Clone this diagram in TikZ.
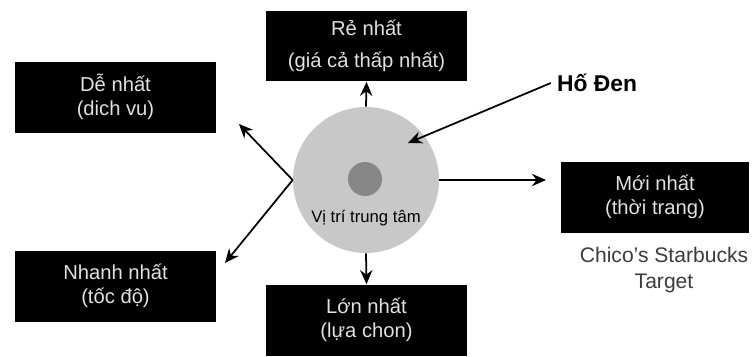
\documentclass[tikz,border=0pt]{standalone}
\usepackage{fontspec}
\setmainfont{Liberation Sans}
\usepackage{tikz}
\usetikzlibrary{arrows.meta,positioning}
\definecolor{boxblack}{RGB}{0,0,0}
\definecolor{boxtext}{RGB}{225,225,225}
\definecolor{discgray}{RGB}{200,200,200}
\definecolor{coregray}{RGB}{135,135,135}
\definecolor{labelgray}{RGB}{60,60,60}

\begin{document}
\begin{tikzpicture}[x=0.02cm, y=-0.02cm, >={Stealth[length=8pt,width=7pt]},
  goal/.style={fill=boxblack, text=boxtext, align=center, inner sep=0pt,
    minimum width=4.02cm, minimum height=1.42cm,
    font={\fontsize{11.5}{14}\selectfont}},
  link/.style={->, line width=1pt, black}]
  \useasboundingbox (0,0) rectangle (753,356);

  % Central disc with its dark core
  \node[circle, fill=discgray, minimum size=2.92cm, inner sep=0pt] (hub) at (366,180) {};
  \node[circle, fill=coregray, minimum size=0.68cm, inner sep=0pt] (core) at (365,179) {};
  \node[font={\fontsize{9.5}{11}\selectfont}] (place) at (366,218) {Vị trí trung tâm};

  % The five goals
  \node[goal, font={\fontsize{11.5}{18}\selectfont}] (cheap) at (366.5,46) {Rẻ nhất\\(giá cả thấp nhất)};
  \node[goal] (easy) at (115.5,97) {Dễ nhất\\(dich vu)};
  \node[goal] (fast) at (115.5,286) {Nhanh nhất\\(tốc độ)};
  \node[goal] (big) at (366.5,320) {Lớn nhất\\(lựa chon)};
  \node[goal, minimum width=3.78cm] (new) at (655,197) {Mới nhất\\(thời trang)};

  % Examples under the fashion goal
  \node[text=labelgray, align=center, font={\fontsize{12}{14.7}\selectfont}]
    (brands) at (664,270) {Chico’s Starbucks\\Target};

  % Black hole label
  \node[font={\fontsize{13}{15}\selectfont\bfseries}] (hole) at (597,83) {Hố Đen};

  % Arrows out of the disc
  \coordinate (tipeasy) at (239,124);
  \coordinate (tipfast) at (225,263);
  \coordinate (tipnew) at (546,180);
  \coordinate (tiphole) at (408,143);
  \draw[link] (hub.north) -- (cheap.south);
  \draw[link] (hub.south) -- (big.north);
  \draw[link] (hub.east) -- (tipnew);
  \draw[link] (hub.west) -- (tipeasy);
  \draw[link] (hub.west) -- (tipfast);
  \draw[link] (hole.west) -- (tiphole);
\end{tikzpicture}
\end{document}
